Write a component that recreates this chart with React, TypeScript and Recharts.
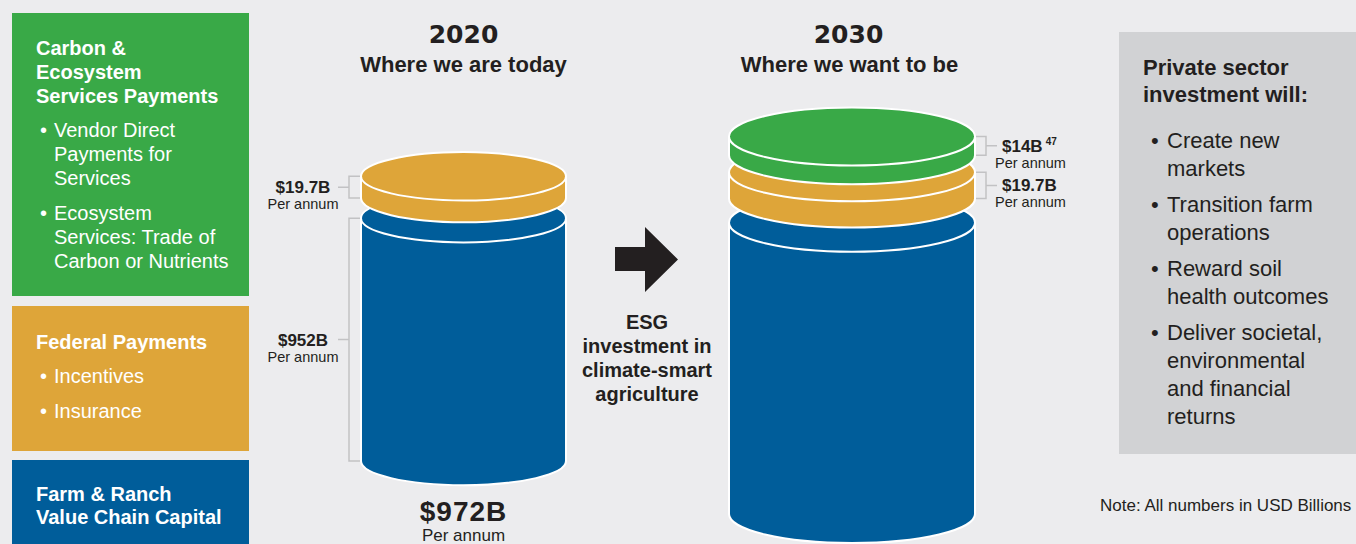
import React from 'react';
import { BarChart, Bar, XAxis, YAxis } from 'recharts';

// ---------- data ----------
const YEARS = ['2020', '2030'];
const YEAR_SUBTITLES = ['Where we are today', 'Where we want to be'];
const VALUE_CHAIN_CAPITAL = [952, 952]; // Farm & Ranch Value Chain Capital ($B per annum)
const FEDERAL_PAYMENTS = [19.7, 19.7]; // Federal Payments ($B per annum)
const CARBON_PAYMENTS: (number | null)[] = [null, 14]; // Carbon & Ecosystem Services Payments
const CARBON_FOOTNOTE = '47';
const AXIS_DOMAIN: [number, number] = [838, 1000];

const GREEN_TITLE = ['Carbon &', 'Ecosystem', 'Services Payments'];
const GREEN_BULLETS = [
  ['Vendor Direct', 'Payments for', 'Services'],
  ['Ecosystem', 'Services: Trade of', 'Carbon or Nutrients'],
];
const FEDERAL_TITLE = ['Federal Payments'];
const FEDERAL_BULLETS = [['Incentives'], ['Insurance']];
const CAPITAL_TITLE = ['Farm & Ranch', 'Value Chain Capital'];
const ESG_LINES = ['ESG', 'investment in', 'climate-smart', 'agriculture'];
const PRIVATE_TITLE = ['Private sector', 'investment will:'];
const PRIVATE_BULLETS = [
  ['Create new', 'markets'],
  ['Transition farm', 'operations'],
  ['Reward soil', 'health outcomes'],
  ['Deliver societal,', 'environmental', 'and financial', 'returns'],
];
const NOTE = 'Note:  All numbers in USD Billions';
const PER_ANNUM = 'Per annum';

// ---------- style ----------
const FONT = "'Liberation Sans', Arial, Helvetica, sans-serif";
const YEAR_FONT = "'DejaVu Sans', 'Liberation Sans', Arial, sans-serif";
const INK = '#231f20';
const BG = '#ececee';
const GREEN = '#39a947';
const ORANGE = '#dea539';
const BLUE = '#005d9a';
const BOX_GRAY = '#d1d2d4';
const BRACKET = '#c2c2c4';

const LAYERS = [
  { key: 'capital', color: BLUE, base: true, footnote: '' },
  { key: 'federal', color: ORANGE, base: false, footnote: '' },
  { key: 'carbon', color: GREEN, base: false, footnote: CARBON_FOOTNOTE },
];

type Cfg = {
  left: number;
  ml: number;
  mr: number;
  barW: number;
  top: number;
  plotH: number;
  labelSide: 'left' | 'right';
  labelBase: boolean;
};

const CFG_2020: Cfg = { left: 251, ml: 110, mr: 10, barW: 205, top: 116, plotH: 345, labelSide: 'left', labelBase: true };
const CFG_2030: Cfg = { left: 719, ml: 10, mr: 110, barW: 246, top: 100, plotH: 414, labelSide: 'right', labelBase: false };

function Puck(props: any) {
  const { x, y, width, height, background, layer, cfg, row } = props;
  if (x == null || y == null || !width) return null;
  const rx = width / 2;
  const ry = width * 0.118;
  const gap = height * 0.48;
  const plotBottom = background && background.height ? background.y + background.height : cfg.top + cfg.plotH;
  const bottom = layer.base ? Math.min(y + height, plotBottom) : y + height - gap;
  const outline = `M${x},${y} A${rx},${ry} 0 0 1 ${x + width},${y} L${x + width},${bottom} A${rx},${ry} 0 0 1 ${x},${bottom} Z`;
  const front = `M${x},${y} A${rx},${ry} 0 0 0 ${x + width},${y}`;
  const v = row[layer.key];
  const left = cfg.labelSide === 'left';
  const edge = left ? x - 1 : x + width + 1;
  const bx = left ? x - 12 : x + width + 11;
  const cx = left ? bx - 11 : bx + 11;
  const mid = (y + bottom) / 2;
  const showLabel = !layer.base || cfg.labelBase;
  return (
    <g>
      <path d={outline} fill={layer.color} stroke="#ffffff" strokeWidth={2} />
      <path d={front} fill="none" stroke="#ffffff" strokeWidth={2} />
      {showLabel ? (
        <g>
          <path
            d={`M${edge},${y} H${bx} V${bottom} H${edge} M${bx},${mid} H${cx}`}
            stroke={BRACKET}
            strokeWidth={1.5}
            fill="none"
          />
          <text
            x={left ? x - 58 : x + width + 27}
            y={mid + 6}
            textAnchor={left ? 'middle' : 'start'}
            fontFamily={FONT}
            fontWeight={700}
            fontSize={17}
            fill={INK}
          >
            {`$${v}B`}
            {layer.footnote ? (
              <tspan dx={3} dy={-7} fontSize={10}>
                {layer.footnote}
              </tspan>
            ) : null}
          </text>
          <text
            x={left ? x - 58 : x + width + 20}
            y={mid + 22}
            textAnchor={left ? 'middle' : 'start'}
            fontFamily={FONT}
            fontSize={14.5}
            fill={INK}
          >
            {PER_ANNUM}
          </text>
        </g>
      ) : null}
    </g>
  );
}

function CylinderChart({ row, cfg }: { row: any; cfg: Cfg }) {
  const width = cfg.ml + cfg.barW + cfg.mr;
  return (
    <div style={{ position: 'absolute', left: cfg.left, top: 0 }}>
      <BarChart
        width={width}
        height={544}
        data={[row]}
        margin={{ top: cfg.top, bottom: 544 - cfg.top - cfg.plotH, left: cfg.ml, right: cfg.mr }}
        barCategoryGap="0%"
        barGap={0}
      >
        <XAxis dataKey="year" hide padding={{ left: 0, right: 0 }} />
        <YAxis type="number" domain={AXIS_DOMAIN} allowDataOverflow hide />
        {LAYERS.filter((l) => row[l.key] != null).map((l) => (
          <Bar
            key={l.key}
            dataKey={l.key}
            stackId="stack"
            fill={l.color}
            isAnimationActive={false}
            shape={(p: any) => <Puck {...p} layer={l} cfg={cfg} row={row} />}
          />
        ))}
      </BarChart>
    </div>
  );
}

function Lines({
  lines,
  x,
  y,
  step,
  size,
  weight = 400,
  fill = '#fff',
  anchor = 'start',
  family = FONT,
}: any) {
  return (
    <>
      {lines.map((t: string, i: number) => (
        <text
          key={i}
          x={x}
          y={y + i * step}
          fontSize={size}
          fontWeight={weight}
          fill={fill}
          textAnchor={anchor}
          fontFamily={family}
        >
          {t}
        </text>
      ))}
    </>
  );
}

function Bullets({ groups, bx, tx, y0, step, groupGap, size, fill }: any) {
  let y = y0;
  const out: any[] = [];
  groups.forEach((g: string[], gi: number) => {
    out.push(
      <text key={`b${gi}`} x={bx} y={y} fontSize={size} fill={fill} fontFamily={FONT}>
        •
      </text>
    );
    g.forEach((t, i) => {
      out.push(
        <text key={`t${gi}-${i}`} x={tx} y={y + i * step} fontSize={size} fill={fill} fontFamily={FONT}>
          {t}
        </text>
      );
    });
    y += (g.length - 1) * step + groupGap;
  });
  return <>{out}</>;
}

export default function App() {
  const rows = YEARS.map((year, i) => ({
    year,
    capital: VALUE_CHAIN_CAPITAL[i],
    federal: FEDERAL_PAYMENTS[i],
    carbon: CARBON_PAYMENTS[i],
  }));
  const total2020 = Math.round(rows[0].capital + rows[0].federal);

  return (
    <div
      style={{
        position: 'absolute',
        left: 0,
        top: 0,
        width: 1356,
        height: 544,
        background: BG,
        overflow: 'hidden',
        fontFamily: FONT,
      }}
    >
      <style>{`.recharts-wrapper svg [clip-path]{clip-path:none !important;}`}</style>
      <svg width={1356} height={544} style={{ position: 'absolute', left: 0, top: 0 }}>
        {/* left legend panels */}
        <rect x={12} y={13} width={237} height={283} fill={GREEN} />
        <Lines lines={GREEN_TITLE} x={36} y={55} step={24} size={20} weight={700} />
        <Bullets groups={GREEN_BULLETS} bx={40} tx={54} y0={137} step={24} groupGap={35} size={20} fill="#fff" />

        <rect x={12} y={306} width={237} height={145} fill={ORANGE} />
        <Lines lines={FEDERAL_TITLE} x={36} y={349} step={24} size={20} weight={700} />
        <Bullets groups={FEDERAL_BULLETS} bx={40} tx={54} y0={383} step={24} groupGap={35} size={20} fill="#fff" />

        <rect x={12} y={460} width={237} height={90} fill={BLUE} />
        <Lines lines={CAPITAL_TITLE} x={36} y={501} step={23} size={20} weight={700} />

        {/* titles */}
        <text x={463.5} y={43} textAnchor="middle" fontFamily={YEAR_FONT} fontWeight={700} fontSize={25} fill={INK}>
          {YEARS[0]}
        </text>
        <text x={463.5} y={72} textAnchor="middle" fontFamily={FONT} fontWeight={700} fontSize={22} fill={INK}>
          {YEAR_SUBTITLES[0]}
        </text>
        <text x={848.5} y={43} textAnchor="middle" fontFamily={YEAR_FONT} fontWeight={700} fontSize={25} fill={INK}>
          {YEARS[1]}
        </text>
        <text x={849.5} y={72} textAnchor="middle" fontFamily={FONT} fontWeight={700} fontSize={22} fill={INK}>
          {YEAR_SUBTITLES[1]}
        </text>

        {/* total under 2020 */}
        <text x={463.5} y={521} textAnchor="middle" fontFamily={FONT} fontWeight={700} fontSize={28} letterSpacing={1} fill={INK}>
          {`$${total2020}B`}
        </text>
        <text x={463.5} y={541} textAnchor="middle" fontFamily={FONT} fontSize={17} fill={INK}>
          {PER_ANNUM}
        </text>

        {/* arrow */}
        <polygon points="615,247 645,247 645,227 678,259.5 645,292 645,271 615,271" fill={INK} />
        <Lines lines={ESG_LINES} x={647} y={329} step={24} size={20} weight={700} fill={INK} anchor="middle" />

        {/* right box */}
        <rect x={1119} y={32} width={240} height={422} fill={BOX_GRAY} />
        <Lines lines={PRIVATE_TITLE} x={1143} y={75} step={27} size={22} weight={700} fill={INK} />
        <Bullets groups={PRIVATE_BULLETS} bx={1151} tx={1167} y0={148} step={28} groupGap={36} size={22} fill={INK} />

        <text x={1100} y={511} fontFamily={FONT} fontSize={17} fill={INK}>
          {NOTE}
        </text>
      </svg>
      <CylinderChart row={rows[0]} cfg={CFG_2020} />
      <CylinderChart row={rows[1]} cfg={CFG_2030} />
    </div>
  );
}
